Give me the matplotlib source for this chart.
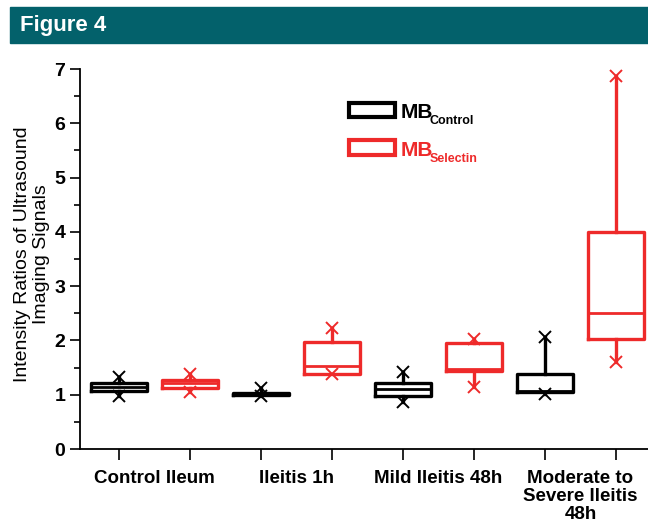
import matplotlib
matplotlib.use("Agg")
import matplotlib.pyplot as plt
from matplotlib.patches import Rectangle
import numpy as np

plt.rcParams['font.family'] = ['Liberation Sans', 'DejaVu Sans']

groups = ['Control Ileum', 'Ileitis 1h', 'Mild Ileitis 48h', 'Moderate to\nSevere Ileitis\n48h']
series = ['Control', 'Selectin']

# box statistics
ctrl_lo = [0.97, 0.98, 0.87, 1.02]
ctrl_q1 = [1.06, 1.00, 0.98, 1.05]
ctrl_med = [1.15, 1.01, 1.10, 1.06]
ctrl_q3 = [1.22, 1.03, 1.21, 1.39]
ctrl_hi = [1.33, 1.12, 1.42, 2.07]

sel_lo = [1.05, 1.38, 1.15, 1.61]
sel_q1 = [1.12, 1.38, 1.44, 2.03]
sel_med = [1.21, 1.52, 1.48, 2.50]
sel_q3 = [1.28, 1.97, 1.96, 4.00]
sel_hi = [1.38, 2.22, 2.03, 6.88]

red = '#ee2a2a'
teal = '#03616b'

fig = plt.figure(figsize=(6.48, 5.25), dpi=100)

def fx(px):
    return px / 648

def fy(py):
    return 1 - py / 525

# header band
fig.patches.append(Rectangle((fx(10), fy(43)), 1 - fx(10), 36 / 525,
                             transform=fig.transFigure, color=teal, zorder=0))
fig.text(fx(20), fy(25), 'Figure 4', color='white', fontsize=16, fontweight='bold',
         fontstretch='condensed', va='center', ha='left',
         family=['Liberation Sans Narrow', 'Liberation Sans'])

ax = fig.add_axes([fx(80), fy(449), 1 - fx(80), 380 / 525])

def make_stats(lo, q1, med, q3, hi):
    return [dict(whislo=a, q1=b, med=c, q3=d, whishi=e, fliers=[])
            for a, b, c, d, e in zip(lo, q1, med, q3, hi)]

pos = np.arange(len(groups)) * 2.0
w = 0.8
for stats, offs, col, hi, lo in [
        (make_stats(ctrl_lo, ctrl_q1, ctrl_med, ctrl_q3, ctrl_hi), 0, 'black', ctrl_hi, ctrl_lo),
        (make_stats(sel_lo, sel_q1, sel_med, sel_q3, sel_hi), 1, red, sel_hi, sel_lo)]:
    ax.bxp(stats, positions=pos + offs, widths=w, showcaps=False, showfliers=False,
           boxprops=dict(color=col, linewidth=2.4),
           whiskerprops=dict(color=col, linewidth=2.4),
           medianprops=dict(color=col, linewidth=2.0))
    ax.plot(pos + offs, hi, 'x', color=col, ms=9, mew=1.4, zorder=5)
    ax.plot(pos + offs, lo, 'x', color=col, ms=9, mew=1.4, zorder=5)

ax.set_ylim(0, 7)
ax.set_xlim(-0.55, 7.45)
ax.set_yticks(range(8))
ax.set_yticks(np.arange(0.5, 7, 1), minor=True)
ax.set_xticks(np.concatenate([pos, pos + 1]))
ax.set_xticklabels([])
ax.set_xticks(pos + 0.5, minor=True)
ax.set_xticklabels(groups, minor=True, fontsize=13.5, fontweight='bold', linespacing=1.08)
ax.tick_params(axis='x', which='minor', length=0, pad=15)
ax.tick_params(axis='x', which='major', length=8, width=1.2, direction='out')
ax.tick_params(axis='y', which='major', length=7, width=1.2, labelsize=14)
ax.tick_params(axis='y', which='minor', length=4, width=1.2)
for lab in ax.get_yticklabels():
    lab.set_fontweight('bold')
for s in ['top', 'right']:
    ax.spines[s].set_visible(False)
for s in ['left', 'bottom']:
    ax.spines[s].set_linewidth(1.3)

ax.set_ylabel('Intensity Ratios of Ultrasound\nImaging Signals', fontsize=14,
              va='center', linespacing=1.1)
ax.yaxis.set_label_coords((32 - 80) / 568, (449 - 254) / 380)

# legend drawn by hand: box + "MB" with a small subscript
for (top, bot), col, name in zip([(103, 117), (140, 155)], ['black', red], series):
    fig.patches.append(Rectangle((fx(349), fy(bot)), fx(395) - fx(349), (bot - top) / 525,
                                 transform=fig.transFigure, facecolor='white',
                                 edgecolor=col, linewidth=3, zorder=3))
    fig.text(fx(401), fy(bot + 1), 'MB', color=col, fontsize=15, fontweight='bold',
             va='baseline', ha='left')
    fig.text(fx(430), fy(bot + 7), name, color=col, fontsize=9, fontweight='bold',
             va='baseline', ha='left')

fig.savefig('out.png', dpi=100)
